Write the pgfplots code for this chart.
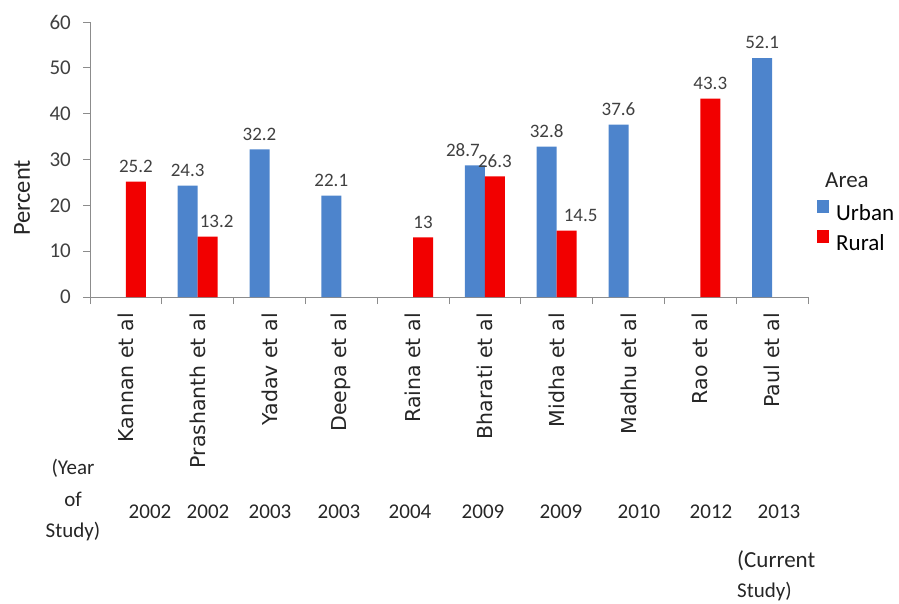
\documentclass[border=0pt]{standalone}
\usepackage{fontspec}
\usepackage{graphicx}
\usepackage{pgfplots}
\pgfplotsset{compat=1.18}
\usepackage{pgfplotstable}
\setmainfont{Carlito}
\newfontfamily\dv{DejaVu Sans}
\definecolor{ublue}{HTML}{4D84CC}
\definecolor{rred}{HTML}{F20000}
\definecolor{axgray}{HTML}{8C8C8C}
\definecolor{txt}{HTML}{404040}
\newcommand\fs[1]{\fontsize{#1pt}{#1pt}\selectfont}

\pgfplotstableread{
x y dx
1 24.3 0
2 32.2 0
3 22.1 0
5 28.7 -12
6 32.8 0
7 37.6 0
9 52.1 0
}\urban

\pgfplotstableread{
x y dx
0 25.2 0
1 13.2 9
4 13 0
5 26.3 0
6 14.5 14
8 43.3 0
}\rural

\begin{document}
\begin{tikzpicture}
\useasboundingbox (0,0) rectangle (899pt,603pt);
\begin{axis}[
  scale only axis, width=718pt, height=275pt,
  at={(90pt,306pt)}, anchor=south west,
  xmin=-0.5, xmax=9.5, ymin=0, ymax=60,
  axis lines=left, axis line style={draw=axgray, -},
  tick style={draw=axgray, line width=0.8pt}, tick align=outside, major tick length=7pt,
  ytick={0,10,20,30,40,50,60},
  /pgf/number format/assume math mode=true,
  yticklabel style={font=\fs{21}, text=txt, inner sep=0pt, xshift=-12pt},
  xtick={-0.5,0.5,1.5,2.5,3.5,4.5,5.5,6.5,7.5,8.5,9.5}, xticklabels={},
  extra x ticks={0,1,2,3,4,5,6,7,8,9},
  extra x tick labels={Kannan et al,Prashanth et al,Yadav et al,Deepa et al,Raina et al,Bharati et al,Midha et al,Madhu et al,Rao et al,Paul et al},
  extra x tick style={major tick length=0pt, xticklabel style={rotate=90, anchor=east, inner sep=0pt, font=\dv\fs{20.5}, text=black!85, xshift=-16pt}},
  ybar, bar width=20pt,
  clip=false,
  visualization depends on={\thisrow{dx} \as \dx},
  nodes near coords,
  nodes near coords style={font=\fs{19}, text=txt, inner sep=0pt, anchor=south, yshift=9pt, xshift=\dx pt},
  legend style={at={(1.0125,0.353)}, anchor=north west, draw=none, fill=none, inner sep=0pt,
    font=\fs{23}, row sep=8pt, nodes={inner sep=0pt},
    /tikz/every odd column/.append style={column sep=7pt}},
  legend cell align=left,
]
\addplot[fill=ublue, draw=none, bar shift=-10pt,
  legend image code/.code={\fill[ublue] (0pt,0pt) rectangle (12pt,13pt);}]
  table[x=x, y=y] {\urban};
\addlegendentry{Urban}
\addplot[fill=rred, draw=none, bar shift=10pt,
  legend image code/.code={\fill[rred] (0pt,0pt) rectangle (12pt,13pt);}]
  table[x=x, y=y] {\rural};
\addlegendentry{Rural}
\end{axis}
\node[anchor=base west, font=\fs{23}, text=black!85, inner sep=0pt] at (825pt,415pt) {Area};
\node[rotate=90, font=\fs{24.5}, text=black!85, inner sep=0pt] at (22pt,405pt) {Percent};
\begin{scope}[every node/.style={font=\fs{21}, text=black!85, inner sep=0pt, anchor=center}]
\node at (150pt,91pt) {2002};
\node at (208pt,91pt) {2002};
\node at (270pt,91pt) {2003};
\node at (339pt,91pt) {2003};
\node at (410pt,91pt) {2004};
\node at (483pt,91pt) {2009};
\node at (561pt,91pt) {2009};
\node at (639pt,91pt) {2010};
\node at (711pt,91pt) {2012};
\node at (779pt,91pt) {2013};
\node[anchor=base] at (73pt,129pt) {(Year};
\node[anchor=base] at (73pt,97pt) {of};
\node[anchor=base] at (73pt,66pt) {Study)};
\node[anchor=base west, font=\fs{23}] at (737pt,36pt) {(Current};
\node[anchor=base west] at (737pt,6pt) {Study)};
\end{scope}
\end{tikzpicture}
\end{document}
